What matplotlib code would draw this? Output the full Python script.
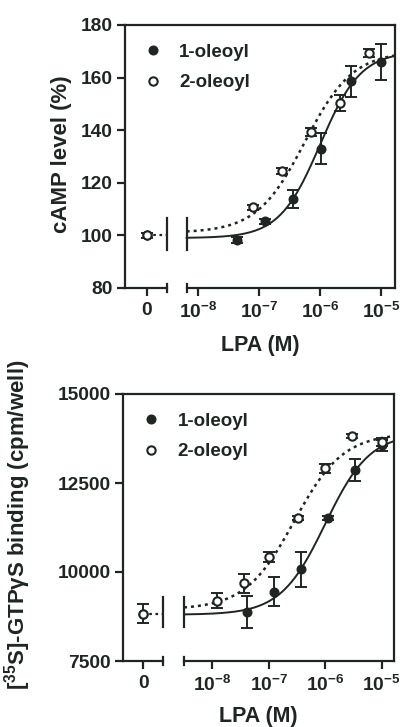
import numpy as np
import matplotlib
matplotlib.use("Agg")
import matplotlib.pyplot as plt

# Fonts / style
plt.rcParams["font.family"] = ["Liberation Sans", "DejaVu Sans"]
plt.rcParams["font.weight"] = "bold"
plt.rcParams["axes.labelweight"] = "bold"
plt.rcParams["mathtext.fontset"] = "custom"
plt.rcParams["mathtext.rm"] = "Liberation Sans:bold"
plt.rcParams["mathtext.bf"] = "Liberation Sans:bold"
plt.rcParams["mathtext.default"] = "bf"

INK = "#1f2622"

# ---- data: cAMP panel ----
camp_ctrl = 100.0
camp_ctrl_err = 1.0
conc_1ol_camp = [4.3e-8, 1.23e-7, 3.6e-7, 1.05e-6, 3.2e-6, 1.0e-5]
camp_1ol = [98.3, 105.4, 113.8, 133.0, 158.7, 166.0]
camp_1ol_err = [1.0, 1.0, 3.3, 6.0, 5.9, 6.8]
conc_2ol_camp = [8.0e-8, 2.35e-7, 7.2e-7, 2.1e-6, 6.3e-6]
camp_2ol = [110.7, 124.5, 139.4, 150.2, 169.2]
camp_2ol_err = [1.0, 1.2, 1.5, 3.0, 1.5]

# fitted curve parameters (bottom, top, logEC50, hill)
camp_fit_1ol = (99.0, 170.0, -6.0, 1.3)
camp_fit_2ol = (101.0, 170.0, -6.25, 1.1)

# ---- data: GTPgS panel ----
gtp_ctrl = 8830.0
gtp_ctrl_err = 260.0
conc_1ol_gtp = [4.1e-8, 1.23e-7, 3.7e-7, 1.1e-6, 3.3e-6, 1.0e-5]
gtp_1ol = [8870, 9447, 10076, 11510, 12865, 13560]
gtp_1ol_err = [450, 400, 490, 60, 300, 150]
conc_2ol_gtp = [1.23e-8, 3.7e-8, 1.0e-7, 3.3e-7, 1.0e-6, 3.0e-6, 1.0e-5]
gtp_2ol = [9190, 9680, 10420, 11510, 12913, 13830, 13650]
gtp_2ol_err = [210, 260, 140, 60, 130, 60, 120]

gtp_fit_1ol = (8800.0, 13900.0, -6.0, 1.1)
gtp_fit_2ol = (8950.0, 13900.0, -6.55, 1.0)

x_ticklabels = ["0", "$10^{-8}$", "$10^{-7}$", "$10^{-6}$", "$10^{-5}$"]


def hill(logx, p):
    bottom, top, logec50, h = p
    return bottom + (top - bottom) / (1 + 10 ** (h * (logec50 - logx)))


def panel(ax, lims, ctrl, ctrl_err, d1, d2, fit1, fit2, ylim, yticks, brk_y):
    # lims: (left, zero, break_left, break_right, right) in log10 units
    left, zero, bl, br, right = lims
    zx = 10 ** zero
    ax.set_xscale("log")
    ax.set_xlim(10 ** left, 10 ** right)
    ax.set_ylim(*ylim)

    # fitted curves
    lx = np.linspace(br, right, 200)
    ax.plot(10 ** lx, hill(lx, fit1), "-", color=INK, lw=1.4, zorder=2)
    ax.plot(10 ** lx, hill(lx, fit2), color=INK, lw=1.8, ls=(0, (1.2, 1.6)), zorder=2)

    # control point link and break marks
    ax.plot([zx, 10 ** bl], [ctrl, ctrl], color=INK, lw=1.6, ls=(0, (1.2, 1.6)))
    for b in (bl, br):
        ax.plot([10 ** b, 10 ** b], brk_y, color=INK, lw=1.6)

    # error bars
    ekw = dict(fmt="none", ecolor=INK, elinewidth=1.4, capsize=4, capthick=1.4, zorder=3)
    ax.errorbar(d1[0], d1[1], yerr=d1[2], **ekw)
    ax.errorbar(d2[0], d2[1], yerr=d2[2], **ekw)
    ax.errorbar([zx], [ctrl], yerr=[ctrl_err], **ekw)

    # markers
    ax.plot(d1[0], d1[1], "o", ms=6.2, color=INK, mec=INK, zorder=4, label="1-oleoyl")
    ax.plot([zx], [ctrl], "o", ms=6.2, color=INK, mec=INK, zorder=4)
    ax.plot(d2[0], d2[1], "o", ms=6, mfc="white", mec=INK, mew=1.5, zorder=5, label="2-oleoyl")
    ax.plot([zx], [ctrl], "o", ms=6, mfc="white", mec=INK, mew=1.5, zorder=5)

    # axes frame with broken bottom axis
    for s in ("left", "top", "right"):
        ax.spines[s].set_linewidth(1.6)
        ax.spines[s].set_color(INK)
    ax.spines["bottom"].set_visible(False)
    tr = ax.get_xaxis_transform()
    ax.plot([10 ** left, 10 ** bl], [0, 0], color=INK, lw=1.6, transform=tr, clip_on=False)
    ax.plot([10 ** br, 10 ** right], [0, 0], color=INK, lw=1.6, transform=tr, clip_on=False)
    for b in (bl, br):
        ax.plot([10 ** b, 10 ** b], [-0.016, 0.016], color=INK, lw=1.6, transform=tr, clip_on=False)

    ax.set_xticks([zx, 1e-8, 1e-7, 1e-6, 1e-5])
    ax.set_xticklabels(x_ticklabels)
    ax.xaxis.set_minor_locator(matplotlib.ticker.NullLocator())
    ax.set_yticks(yticks)
    ax.tick_params(axis="both", colors=INK, labelsize=13.8, width=1.6, length=6, direction="out")
    ax.tick_params(axis="x", pad=4)
    ax.tick_params(axis="y", pad=3)

    leg = ax.legend(loc="upper left", frameon=False, fontsize=13.5, handlelength=1.0,
                    handletextpad=0.9, labelspacing=0.7, borderaxespad=0.6,
                    bbox_to_anchor=(0.0, 1.0))
    for t in leg.get_texts():
        t.set_color(INK)


fig = plt.figure(figsize=(4.02, 7.27), dpi=100)

ax1 = fig.add_axes([125 / 402, 1 - 288 / 727, 270 / 402, 263 / 727])
panel(ax1, (-9.202, -8.846, -8.518, -8.190, -4.770), camp_ctrl, camp_ctrl_err,
      (conc_1ol_camp, camp_1ol, camp_1ol_err), (conc_2ol_camp, camp_2ol, camp_2ol_err),
      camp_fit_1ol, camp_fit_2ol, (80, 180), [80, 100, 120, 140, 160, 180], [94.5, 106.5])
ax1.set_xlabel("LPA (M)", fontsize=15.5, color=INK)
ax1.xaxis.set_label_coords(0.5, -0.18)
ax1.set_ylabel("cAMP level (%)", fontsize=16, color=INK)
ax1.yaxis.set_label_coords(-0.195, 0.51)

ax2 = fig.add_axes([123.3 / 402, 1 - 661 / 727, 270.7 / 402, 267 / 727])
panel(ax2, (-9.576, -9.222, -8.868, -8.501, -4.782), gtp_ctrl, gtp_ctrl_err,
      (conc_1ol_gtp, gtp_1ol, gtp_1ol_err), (conc_2ol_gtp, gtp_2ol, gtp_2ol_err),
      gtp_fit_1ol, gtp_fit_2ol, (7500, 15000), [7500, 10000, 12500, 15000], [8450, 9300])
ax2.set_xlabel("LPA (M)", fontsize=15.5, color=INK)
ax2.xaxis.set_label_coords(0.5, -0.168)
ax2.set_ylabel("[$^{35}$S]-GTPγS binding (cpm/well)", fontsize=16, color=INK)
ax2.yaxis.set_label_coords(-0.335, 0.51)

fig.savefig("out.png", dpi=100)
